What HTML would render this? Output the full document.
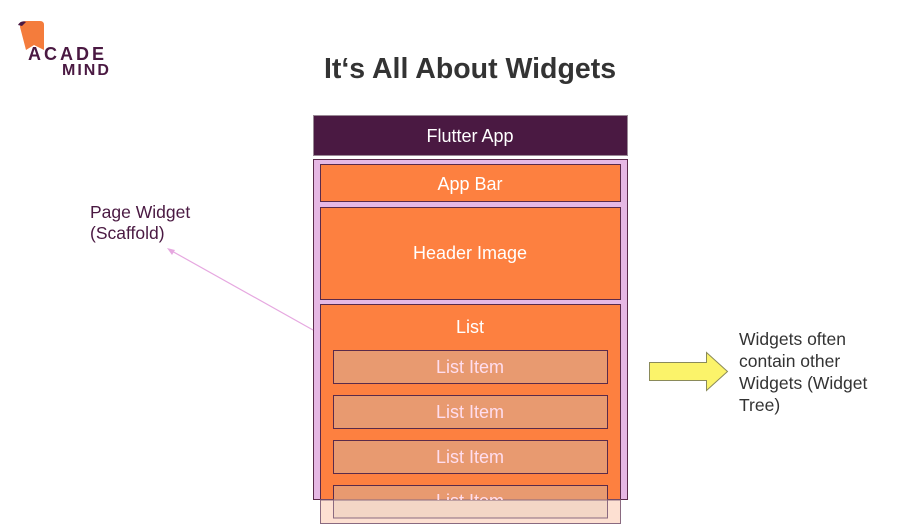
<!DOCTYPE html>
<html><head><meta charset="utf-8"><style>
body{margin:0;background:#fff;width:899px;height:531px;overflow:hidden}
svg{display:block}
text{font-family:"Liberation Sans",sans-serif}
</style></head><body>
<svg width="899" height="531" viewBox="0 0 899 531">
<!-- logo -->
<path d="M20 27 Q20 21 26 21 L40 21 Q44 21 44 25 L44 50 L34 45 L26 50 Z" fill="#f47c3c"/>
<path d="M18 25 Q21 20 26 22 L22 26 Z" fill="#4a1942"/>
<text x="28" y="60" font-size="18" font-weight="bold" fill="#4a1942" letter-spacing="3">ACADE</text>
<text x="62" y="75" font-size="16" font-weight="bold" fill="#4a1942" letter-spacing="2">MIND</text>
<text x="470" y="78" font-size="28.5" font-weight="bold" fill="#333" text-anchor="middle">It‘s All About Widgets</text>
<!-- flutter app -->
<rect x="313.5" y="115.5" width="314" height="40" fill="#4a1942" stroke="#9a8a96"/>
<text x="470" y="142" font-size="18" fill="#fff" text-anchor="middle">Flutter App</text>
<!-- scaffold -->
<rect x="313.5" y="159.5" width="314" height="340" fill="#e6b8e4" stroke="#5a2a4a"/>
<rect x="320.5" y="164.5" width="300" height="37" fill="#fd8040" stroke="#5a2a4a"/>
<text x="470" y="190" font-size="18" fill="#fff" text-anchor="middle">App Bar</text>
<rect x="320.5" y="207.5" width="300" height="92" fill="#fd8040" stroke="#5a2a4a"/>
<text x="470" y="259" font-size="18" fill="#fff" text-anchor="middle">Header Image</text>
<!-- list -->
<rect x="320.5" y="304.5" width="300" height="195" fill="#fd8040" stroke="#5a2a4a"/>
<rect x="320.5" y="500" width="300" height="23.5" fill="#fde0d2" stroke="#8a6a80"/>
<text x="470" y="333" font-size="18" fill="#fff" text-anchor="middle">List</text>
<g font-size="18" fill="#fde" text-anchor="middle">
<rect x="333.5" y="350.5" width="274" height="33" fill="#e89a70" stroke="#5a2a4a"/>
<text x="470" y="373">List Item</text>
<rect x="333.5" y="395.5" width="274" height="33" fill="#e89a70" stroke="#5a2a4a"/>
<text x="470" y="418">List Item</text>
<rect x="333.5" y="440.5" width="274" height="33" fill="#e89a70" stroke="#5a2a4a"/>
<text x="470" y="463">List Item</text>
<rect x="333.5" y="485.5" width="274" height="14.5" fill="#e89a70" stroke="#5a2a4a"/>
<rect x="333.5" y="500" width="274" height="18" fill="#f3d6c6" stroke="#8a6a80"/>
<text x="470" y="507" clip-path="url(#c)">List Item</text>
</g>
<defs><clipPath id="c"><rect x="330" y="485" width="280" height="15"/></clipPath></defs>
<line x1="313.5" y1="159.5" x2="313.5" y2="499.5" stroke="#5a2a4a"/>
<line x1="627.5" y1="159.5" x2="627.5" y2="499.5" stroke="#5a2a4a"/>
<!-- connector -->
<line x1="313" y1="330" x2="170" y2="250" stroke="#e6a8e0" stroke-width="1.2"/>
<path d="M167 248 L175 250 L172 255 Z" fill="#e6a8e0"/>
<text x="90" y="218" font-size="17.5" fill="#4a1942">Page Widget</text>
<text x="90" y="239" font-size="17.5" fill="#4a1942">(Scaffold)</text>
<!-- yellow arrow -->
<path d="M649.5 362.5 L706.5 362.5 L706.5 352.5 L727.5 371.5 L706.5 390.5 L706.5 380.5 L649.5 380.5 Z" fill="#fbf36a" stroke="#8a8a5a"/>
<g font-size="17.5" fill="#333">
<text x="739" y="345">Widgets often</text>
<text x="739" y="367">contain other</text>
<text x="739" y="389">Widgets (Widget</text>
<text x="739" y="411">Tree)</text>
</g>
</svg>
</body></html>
